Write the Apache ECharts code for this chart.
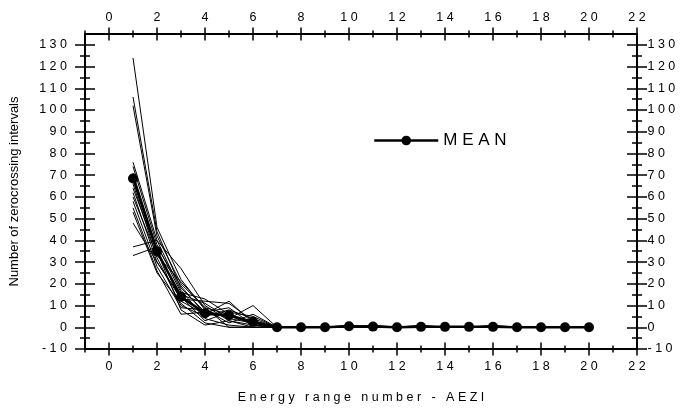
<!DOCTYPE html>
<html>
<head>
<meta charset="utf-8">
<script src="https://cdn.jsdelivr.net/npm/echarts@6/dist/echarts.min.js"></script>
<style>html,body{margin:0;padding:0;background:#fff}#c{width:681px;height:409px}</style>
</head>
<body>
<div id="c"></div>
<script>
// ---- data ----
const xValues = [1, 2, 3, 4, 5, 6, 7, 8, 9, 10, 11, 12, 13, 14, 15, 16, 17, 18, 19, 20];
const meanValues = [68.5, 35, 14, 6.5, 5.5, 2.5, 0, 0, 0, 0.5, 0.3, 0, 0.2, 0.2, 0.2, 0.2, 0, 0, 0, 0];
const run01 = [124, 46, 22, 8, 4, 2, 0, 0, 0, 0, 0, 0, 0, 0, 0, 0, 0, 0, 0, 0];
const run02 = [106, 44, 18, 7, 5, 3, 0, 0, 0, 1, 0, 0, 0, 0, 0, 0, 0, 0, 0, 0];
const run03 = [102, 42, 20, 9, 6, 1, 0, 0, 0, 0, 0, 0, 0, 0, 0, 0, 0, 0, 0, 0];
const run04 = [76, 40, 27, 10, 3, 0, 0, 0, 0, 0, 0, 0, 0, 0, 0, 0, 0, 0, 0, 0];
const run05 = [74, 38, 16, 13, 6, 2, 0, 0, 0, 0, 1, 0, 0, 0, 0, 0, 0, 0, 0, 0];
const run06 = [71, 36, 12, 6, 12, 2, 0, 0, 0, 0, 0, 0, 0, 0, 0, 0, 0, 0, 0, 0];
const run07 = [70, 34, 15, 11, 4, 10, 0, 0, 0, 0, 0, 0, 0, 0, 0, 0, 0, 0, 0, 0];
const run08 = [66, 32, 10, 5, 8, 4, 0, 0, 0, 0, 0, 0, 0, 0, 0, 1, 0, 0, 0, 0];
const run09 = [62, 30, 14, 3, 7, 5, 0, 0, 0, 0, 0, 0, 0, 0, 0, 0, 0, 0, 0, 0];
const run10 = [58, 28, 9, 8, 2, 6, 0, 0, 0, 0, 0, 0, 0, 0, 0, 0, 0, 0, 0, 0];
const run11 = [55, 26, 6, 7, 9, 1, 0, 0, 0, 0, 0, 0, 1, 0, 0, 0, 0, 0, 0, 0];
const run12 = [53, 25, 11, 2, 0, 0, 0, 0, 0, 0, 0, 0, 0, 0, 0, 0, 0, 0, 0, 0];
const run13 = [48, 30, 13, 12, 11, 3, 0, 0, 0, 0, 0, 0, 0, 0, 0, 0, 0, 0, 0, 0];
const run14 = [37, 40, 17, 4, 1, 0, 0, 0, 0, 0, 0, 0, 0, 0, 0, 0, 0, 0, 0, 0];
const run15 = [33, 37, 19, 6, 5, 2, 0, 0, 0, 0, 0, 0, 0, 0, 0, 0, 0, 0, 0, 0];
const run16 = [64, 35, 8, 1, 3, 1, 0, 0, 0, 0, 0, 0, 0, 0, 0, 0, 0, 0, 0, 0];
const run17 = [60, 33, 21, 9, 0, 0, 0, 0, 0, 0, 0, 0, 0, 0, 0, 0, 0, 0, 0, 0];
const runs = [run01, run02, run03, run04, run05, run06, run07, run08, run09, run10,
              run11, run12, run13, run14, run15, run16, run17];
const xMajorTicks = [0, 2, 4, 6, 8, 10, 12, 14, 16, 18, 20, 22];
const xMinorTicks = [-1, 1, 3, 5, 7, 9, 11, 13, 15, 17, 19, 21];
const yMajorTicks = [-10, 0, 10, 20, 30, 40, 50, 60, 70, 80, 90, 100, 110, 120, 130];
const yMinorTicks = [-5, 5, 15, 25, 35, 45, 55, 65, 75, 85, 95, 105, 115, 125];
const xTitle = 'Energy range number - AEZI';
const yTitle = 'Number of zerocrossing intervals';
const meanName = 'MEAN';

// ---- chart ----
const FONT = "'Liberation Sans', Arial, Helvetica, sans-serif";
const spaced = s => String(s).split('').join(' ');
const XMIN = -1, XMAX = 22, YMIN = -10, YMAX = 135;

function tickAxis(kind, pos, values, len, inside, extra) {
  const a = {
    type: 'value', position: pos,
    min: kind === 'x' ? XMIN : YMIN, max: kind === 'x' ? XMAX : YMAX,
    axisLine: { show: false, onZero: false },
    axisTick: { show: true, inside: inside, length: len, customValues: values,
                lineStyle: { color: '#000', width: 1.5 } },
    axisLabel: { show: false },
    splitLine: { show: false },
    silent: true
  };
  return Object.assign(a, extra || {});
}

function labelAxis(kind, pos, margin, extra) {
  const a = {
    type: 'value', position: pos,
    min: kind === 'x' ? XMIN : YMIN, max: kind === 'x' ? XMAX : YMAX,
    axisLine: { show: true, onZero: false, lineStyle: { color: '#000', width: 2 } },
    axisTick: { show: false },
    axisLabel: { show: true, margin: margin, color: '#000', fontSize: 12.5, fontFamily: FONT,
                 customValues: kind === 'x' ? xMajorTicks : yMajorTicks,
                 formatter: v => spaced(v) },
    splitLine: { show: false },
    silent: true
  };
  return Object.assign(a, extra || {});
}

const xAxes = [
  labelAxis('x', 'bottom', 11.5, {
    name: spaced(xTitle), nameLocation: 'middle', nameGap: 42,
    nameTextStyle: { color: '#000', fontSize: 12.5, fontFamily: FONT }
  }),
  labelAxis('x', 'top', 10),
];
const yAxes = [
  labelAxis('y', 'left', 18, {
    name: yTitle, nameLocation: 'middle', nameGap: 64,
    nameTextStyle: { color: '#000', fontSize: 13, fontFamily: FONT }
  }),
  labelAxis('y', 'right', 10.5),
];
['bottom', 'top'].forEach(p => {
  xAxes.push(tickAxis('x', p, xMajorTicks, 6.5, true));
  xAxes.push(tickAxis('x', p, xMajorTicks, 6.5, false));
  xAxes.push(tickAxis('x', p, xMinorTicks, 3.5, true));
  xAxes.push(tickAxis('x', p, xMinorTicks, 3.5, false));
});
['left', 'right'].forEach(p => {
  yAxes.push(tickAxis('y', p, yMajorTicks, 10, true));
  yAxes.push(tickAxis('y', p, yMajorTicks, 10, false));
  yAxes.push(tickAxis('y', p, yMinorTicks, 5, true));
  yAxes.push(tickAxis('y', p, yMinorTicks, 5, false));
});

const series = runs.map((r, i) => ({
  name: 'run' + (i + 1), type: 'line', xAxisIndex: 0, yAxisIndex: 0,
  data: xValues.map((x, j) => [x, r[j]]),
  showSymbol: false, symbol: 'none',
  lineStyle: { color: '#000', width: 1 },
  silent: true, z: 2
}));
series.push({
  name: meanName, type: 'line', xAxisIndex: 0, yAxisIndex: 0,
  data: xValues.map((x, j) => [x, meanValues[j]]),
  symbol: 'circle', symbolSize: 10, showSymbol: true,
  itemStyle: { color: '#000' },
  lineStyle: { color: '#000', width: 2.5 },
  z: 5
});

const chart = echarts.init(document.getElementById('c'), null, { renderer: 'canvas' });
chart.setOption({
  animation: false,
  backgroundColor: '#fff',
  grid: { left: 82, right: 44, top: 34, bottom: 55, containLabel: false },
  legend: {
    data: [meanName], left: 373, top: 132, padding: 0,
    itemWidth: 64, itemHeight: 12, itemGap: 0,
    lineStyle: { width: 2.5, color: '#000' },
    itemStyle: { color: '#000' },
    formatter: n => spaced(n),
    textStyle: { color: '#000', fontSize: 17, fontFamily: FONT },
    selectedMode: false
  },
  xAxis: xAxes,
  yAxis: yAxes,
  series: series
});
</script>
</body>
</html>
